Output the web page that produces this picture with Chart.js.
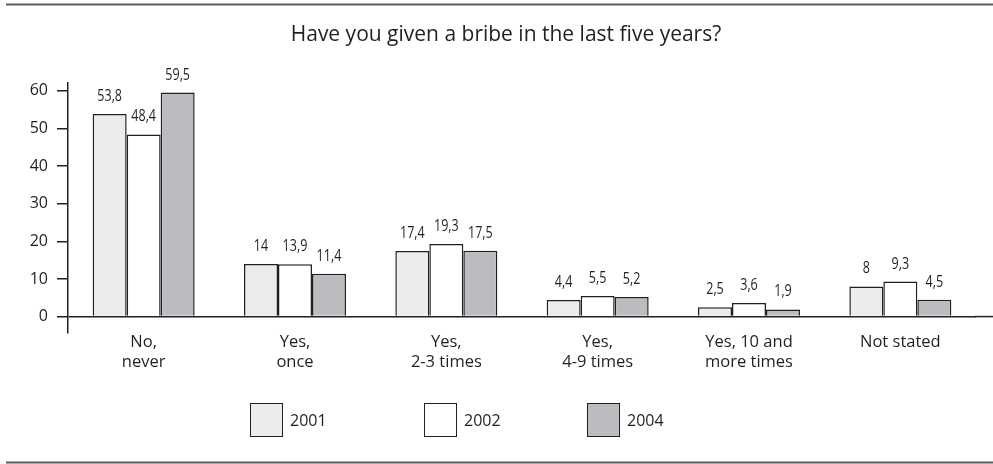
<!DOCTYPE html>
<html>
<head>
<meta charset="utf-8">
<script src="https://cdn.jsdelivr.net/npm/chart.js@4"></script>
<style>
  body { margin: 0; background: #fff; }
  #wrap { position: relative; width: 993px; height: 464px; }
  .leg { position: absolute; top: 403px; height: 34px; font: 16px "Open Sans", sans-serif; color: #231f20; }
  .leg span.box { position: absolute; left: 0; top: 0; width: 31px; height: 32px; border: 1.5px solid #231f20; }
  .leg span.txt { position: absolute; left: 40px; top: 6px; white-space: nowrap; }
</style>
</head>
<body>
<div id="wrap">
  <canvas id="grafico"></canvas>
</div>
<script>
// categorias e valores (%)
var categories = [['No,', 'never'], ['Yes,', 'once'], ['Yes,', '2-3 times'], ['Yes,', '4-9 times'], ['Yes, 10 and', 'more times'], 'Not stated'];
var years = ['2001', '2002', '2004'];
var values2001 = [53.8, 14, 17.4, 4.4, 2.5, 8];
var values2002 = [48.4, 13.9, 19.3, 5.5, 3.6, 9.3];
var values2004 = [59.5, 11.4, 17.5, 5.2, 1.9, 4.5];
var yTicks = [0, 10, 20, 30, 40, 50, 60];

var fills = ['#ebecee', '#ffffff', '#bbbcbf'];
var ink = '#231f20';

// valores acima das barras + linhas de moldura
var extras = {
    id: 'extras',
    afterDatasetsDraw: function(chart) {
        var ctx = chart.ctx;
        ctx.save();
        ctx.fillStyle = ink;
        ctx.font = '16.5px "Open Sans", sans-serif';
        ctx.textAlign = 'center';
        ctx.textBaseline = 'alphabetic';
        chart.data.datasets.forEach(function(ds, i) {
            chart.getDatasetMeta(i).data.forEach(function(bar, j) {
                // fonte estreita (condensada na horizontal)
                ctx.save();
                ctx.translate(bar.x, bar.y - 13);
                ctx.scale(0.76, 1);
                ctx.fillText(String(ds.data[j]).replace('.', ','), 0, 0);
                ctx.restore();
            });
        });
        // linha do zero continua até a borda
        var y0 = chart.scales.y.getPixelForValue(0);
        ctx.strokeStyle = ink;
        ctx.lineWidth = 1.5;
        ctx.beginPath();
        ctx.moveTo(chart.chartArea.right - 1, y0);
        ctx.lineTo(chart.width, y0);
        ctx.stroke();
        // moldura superior e inferior
        ctx.strokeStyle = '#5a5b5d';
        ctx.lineWidth = 2;
        ctx.beginPath();
        ctx.moveTo(6, 4.5);
        ctx.lineTo(chart.width, 4.5);
        ctx.moveTo(6, 462.5);
        ctx.lineTo(chart.width, 462.5);
        ctx.stroke();
        ctx.restore();
    }
};

var data = {
    labels: categories,
    datasets: [
        { label: years[0], data: values2001, backgroundColor: fills[0] },
        { label: years[1], data: values2002, backgroundColor: fills[1] },
        { label: years[2], data: values2004, backgroundColor: fills[2] }
    ].map(function(d) {
        d.borderColor = ink;
        d.borderWidth = 1.5;
        d.categoryPercentage = 0.674;
        d.barPercentage = 1;
        return d;
    })
};

var options = {
    responsive: true,
    maintainAspectRatio: false,
    animation: false,
    layout: { padding: { left: 19, right: 0, top: 0, bottom: 92 } },
    plugins: {
        legend: { display: false },
        tooltip: { enabled: false },
        title: {
            display: true,
            text: 'Have you given a bribe in the last five years?',
            color: ink,
            font: { family: '"Open Sans", sans-serif', size: 21, weight: 'normal', lineHeight: 1.2 },
            padding: { top: 22, bottom: 36 }
        }
    },
    scales: {
        x: {
            grid: { display: false, drawTicks: false },
            border: { display: false },
            ticks: {
                color: ink,
                padding: 0,
                maxRotation: 0,
                autoSkip: false,
                font: { family: '"Open Sans", sans-serif', size: 16.5, lineHeight: 1.2 }
            }
        },
        y: {
            min: -4.2,
            max: 62,
            afterBuildTicks: function(axis) {
                axis.ticks = yTicks.map(function(v) { return { value: v }; });
            },
            afterFit: function(axis) { axis.width = 49; },
            border: { display: true, color: ink, width: 1.5 },
            grid: {
                color: function(c) { return c.tick && c.tick.value === 0 ? ink : 'rgba(0,0,0,0)'; },
                tickColor: ink,
                tickLength: 11,
                lineWidth: 1.5
            },
            ticks: {
                color: ink,
                padding: 9,
                font: { family: '"Open Sans", sans-serif', size: 16 }
            }
        },
        // eixo vazio à direita, só reserva a margem
        y2: {
            position: 'right',
            display: true,
            afterFit: function(axis) { axis.width = 17; },
            grid: { display: false, drawTicks: false },
            border: { display: false },
            ticks: { display: false }
        }
    }
};

var ctx = document.querySelector('#grafico').getContext('2d');
var barChart = new Chart(ctx, {
    type: 'bar',
    data: data,
    options: options,
    plugins: [extras]
});

// legenda
var legX = [250, 424, 587];
var wrap = document.getElementById('wrap');
years.forEach(function(y, i) {
    var item = document.createElement('div');
    item.className = 'leg';
    item.style.left = legX[i] + 'px';
    item.innerHTML = '<span class="box" style="background:' + fills[i] + '"></span><span class="txt">' + y + '</span>';
    wrap.appendChild(item);
});
</script>
</body>
</html>
